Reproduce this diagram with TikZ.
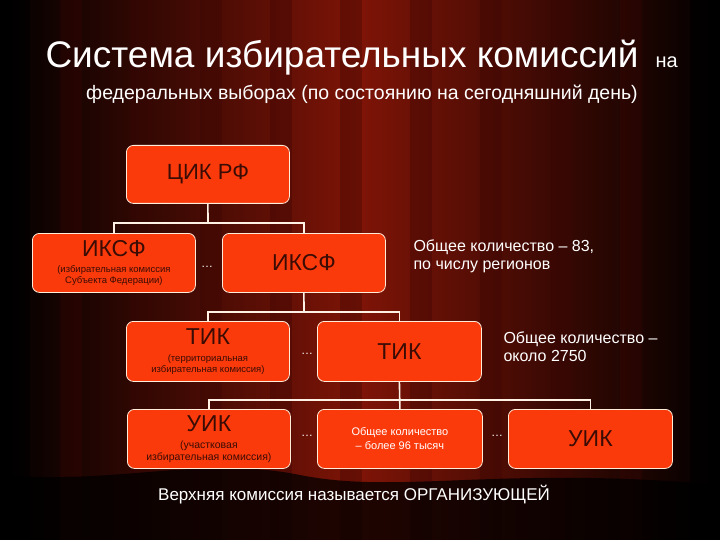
\documentclass[tikz,border=0pt]{standalone}
\usepackage{fontspec}
\setmainfont{Liberation Sans}
\begin{document}
\begin{tikzpicture}[x=1pt,y=-1pt,
  box/.style={draw=white!85!orange,line width=0.8pt,rounded corners=7pt,fill=boxred,inner sep=0pt,anchor=north west},
  conn/.style={draw=white!90!orange,line width=1.6pt},
  dk/.style={text=boxtext},
  dots/.style={text=white,font=\large},
  lbl/.style={text=white,align=left}]
\definecolor{boxred}{HTML}{FB3A0C}
\definecolor{boxtext}{HTML}{3A0C04}
\definecolor{curtain}{HTML}{7E1407}
\definecolor{curtaindark}{HTML}{3A0603}
\useasboundingbox (0,0) rectangle (720,540);
\shade[left color=black,right color=black,middle color=curtain] (0,0) rectangle (720,540);
\foreach \xx in {60,130,200,270,340,410,480,550,620}
  \fill[curtaindark,opacity=0.35] (\xx,0) rectangle ++(22,540);
\fill[black,opacity=0.75] (0,475) .. controls (120,485) and (200,455) .. (300,475) .. controls (400,495) and (500,465) .. (720,485) -- (720,540) -- (0,540) -- cycle;
\fill[black,opacity=0.5] (0,0) rectangle (30,540);
\fill[black,opacity=0.6] (690,0) rectangle (720,540);
% title
\node[text=white,font=\fontsize{37}{40}\selectfont,anchor=base west] (t1) at (42,68) {Система избирательных комиссий};
\node[text=white,font=\fontsize{20}{22}\selectfont,anchor=base west] (t1b) at (652,68) {на};
\node[text=white,font=\fontsize{19.5}{22}\selectfont] (t2) at (362,94) {федеральных выборах (по состоянию на сегодняшний день)};
% boxes
\node[box,minimum width=163,minimum height=58] (cik) at (126,145) {};
\node[dk,font=\fontsize{22}{24}\selectfont] at (cik.center) {ЦИК РФ};
\node[box,minimum width=163,minimum height=59] (iksf1) at (32,233) {};
\node[dk,font=\fontsize{23}{24}\selectfont] at ([yshift=14]iksf1.center) {ИКСФ};
\node[dk,font=\fontsize{9.5}{11}\selectfont,align=center] at ([yshift=-13]iksf1.center) {(избирательная комиссия\\Субъекта Федерации)};
\node[box,minimum width=163,minimum height=59] (iksf2) at (222,233) {};
\node[dk,font=\fontsize{23}{24}\selectfont] at (iksf2.center) {ИКСФ};
\node[box,minimum width=163,minimum height=60] (tik1) at (126,321) {};
\node[dk,font=\fontsize{23}{24}\selectfont] at ([yshift=15]tik1.center) {ТИК};
\node[dk,font=\fontsize{9.5}{11}\selectfont,align=center] at ([yshift=-13]tik1.center) {(территориальная\\избирательная комиссия)};
\node[box,minimum width=164,minimum height=60] (tik2) at (317,321) {};
\node[dk,font=\fontsize{23}{24}\selectfont] at (tik2.center) {ТИК};
\node[box,minimum width=163,minimum height=59] (uik1) at (127,409) {};
\node[dk,font=\fontsize{23}{24}\selectfont] at ([yshift=15]uik1.center) {УИК};
\node[dk,font=\fontsize{10.5}{12}\selectfont,align=center] at ([yshift=-13]uik1.center) {(участковая\\избирательная комиссия)};
\node[box,minimum width=165,minimum height=59] (mid) at (317,409) {};
\node[text=white,font=\fontsize{11}{14}\selectfont,align=center] at (mid.center) {Общее количество\\– более 96 тысяч};
\node[box,minimum width=164,minimum height=59] (uik3) at (508,409) {};
\node[dk,font=\fontsize{23}{24}\selectfont] at (uik3.center) {УИК};
% connectors
\coordinate (j1) at (208,223);
\coordinate (j2) at (304,312);
\coordinate (j3) at (399,400);
\draw[conn] (cik.south) -- (j1);
\draw[conn] (iksf1.north) |- (j1) -| (iksf2.north);
\draw[conn] (iksf2.south) -- (j2);
\draw[conn] (tik1.north) |- (j2) -| (tik2.north);
\draw[conn] (tik2.south) -- (mid.north);
\draw[conn] (uik1.north) |- (j3) -| (uik3.north);
% dots
\node[dots] (d1) at (207,267) {…};
\node[dots] (d2) at (307,354) {…};
\node[dots] (d3) at (307,436) {…};
\node[dots] (d4) at (497,436) {…};
% side labels
\node[lbl,font=\fontsize{16}{18}\selectfont,anchor=north west] (s1) at (410,236) {Общее количество – 83,\\по числу регионов};
\node[lbl,font=\fontsize{16}{18}\selectfont,anchor=north west] (s2) at (500,328) {Общее количество –\\около 2750};
\node[text=white,font=\fontsize{17}{20}\selectfont] (b) at (354,495) {Верхняя комиссия называется ОРГАНИЗУЮЩЕЙ};
\end{tikzpicture}
\end{document}
